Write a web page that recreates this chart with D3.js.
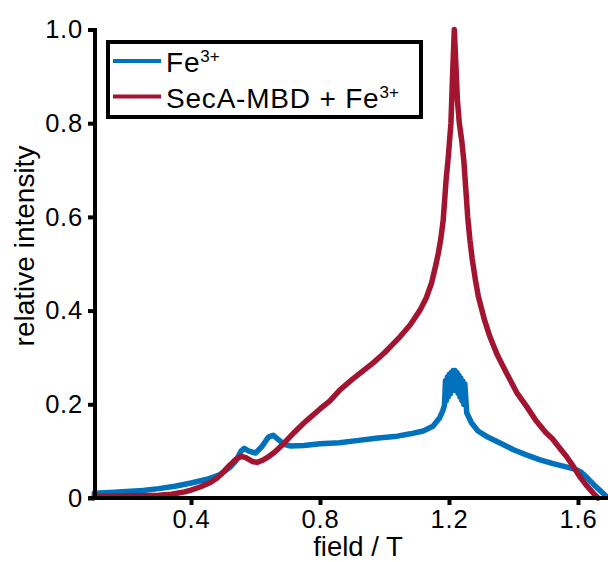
<!DOCTYPE html>
<html>
<head>
<meta charset="utf-8">
<script src="https://cdn.jsdelivr.net/npm/d3@7"></script>
<style>
  html, body { margin: 0; padding: 0; background: #fff; }
  svg { display: block; }
  text { font-family: "Liberation Sans", Arial, Helvetica, sans-serif; fill: #000; }
</style>
</head>
<body>
<svg id="chart" width="608" height="562"></svg>
<script>
// Field (T) for the Fe3+ only spectrum
const feField = [0.10,0.15,0.20,0.25,0.30,0.35,0.40,0.45,0.49,0.52,0.54,0.555,0.565,0.58,0.60,0.62,0.64,0.655,0.67,0.69,0.71,0.75,0.80,0.86,0.92,0.98,1.04,1.08,1.12,1.15,1.17,1.18,
  1.186,1.189,1.192,1.195,1.198,1.201,1.204,1.207,1.210,1.213,1.216,1.219,1.222,1.225,1.228,1.231,1.234,1.237,1.240,1.243,1.246,1.249,
  1.255,1.27,1.29,1.32,1.36,1.40,1.44,1.48,1.52,1.56,1.59,1.61,1.63,1.65,1.67,1.69];
// Relative intensity for the Fe3+ only spectrum
const feValue = [0.010,0.012,0.014,0.016,0.020,0.025,0.032,0.040,0.050,0.065,0.080,0.100,0.106,0.100,0.096,0.110,0.130,0.134,0.125,0.114,0.111,0.112,0.116,0.118,0.123,0.128,0.132,0.137,0.143,0.153,0.170,0.185,
  0.198,0.250,0.208,0.258,0.216,0.264,0.222,0.268,0.230,0.272,0.234,0.272,0.230,0.268,0.224,0.262,0.216,0.256,0.208,0.250,0.200,0.244,
  0.182,0.160,0.143,0.130,0.117,0.103,0.092,0.082,0.074,0.067,0.062,0.055,0.042,0.028,0.015,0.002];

// Field (T) for the SecA-MBD + Fe3+ spectrum
const secField = [0.10,0.15,0.20,0.25,0.30,0.34,0.38,0.40,0.43,0.46,0.48,0.50,0.52,0.54,0.555,0.57,0.59,0.605,0.62,0.64,0.66,0.69,0.72,0.75,0.77,0.80,0.83,0.862,0.90,0.964,1.00,1.048,1.08,1.11,1.13,1.146,1.160,1.167,1.175,1.182,1.191,1.198,1.206,1.211,1.2165,
  1.221,1.226,1.232,1.240,1.246,1.252,1.258,1.265,1.272,1.282,1.291,1.31,1.327,1.35,1.379,1.41,1.441,1.47,1.50,1.52,1.545,1.565,1.585,1.606,1.625,1.648,1.662];
// Relative intensity for the SecA-MBD + Fe3+ spectrum
const secValue = [0.004,0.004,0.005,0.005,0.006,0.008,0.013,0.017,0.024,0.033,0.042,0.055,0.070,0.083,0.089,0.086,0.078,0.076,0.080,0.088,0.098,0.118,0.140,0.160,0.172,0.190,0.207,0.231,0.253,0.288,0.310,0.344,0.370,0.401,0.428,0.459,0.500,0.523,0.555,0.593,0.679,0.730,0.800,0.900,1.000,
  0.930,0.850,0.800,0.760,0.720,0.660,0.600,0.550,0.510,0.465,0.430,0.380,0.344,0.305,0.266,0.225,0.195,0.165,0.140,0.127,0.105,0.088,0.068,0.045,0.028,0.010,0.000];

const seriesNames = ["Fe", "SecA-MBD + Fe"];
const seriesColors = ["#0072BD", "#A2142F"];
const xTicks = [0.4, 0.8, 1.2, 1.6];
const yTicks = [0, 0.2, 0.4, 0.6, 0.8, 1.0];
const xTickLabels = ["0.4", "0.8", "1.2", "1.6"];
const yTickLabels = ["0", "0.2", "0.4", "0.6", "0.8", "1.0"];
const xTitle = "field / T";
const yTitle = "relative intensity";

const svg = d3.select("#chart");
const x = d3.scaleLinear().domain([0.1, 1.7]).range([94.25, 610.25]);
const y = d3.scaleLinear().domain([0, 1]).range([498, 29.5]);

const toPoints = (fx, fy) => fx.map((f, i) => [f, fy[i]]);
const series = [toPoints(feField, feValue), toPoints(secField, secValue)];

const line = d3.line().x(d => x(d[0])).y(d => y(d[1]));

// spectra: Fe3+ first, complex drawn on top
svg.append("g").selectAll("path")
  .data(series)
  .join("path")
  .attr("d", line)
  .attr("fill", "none")
  .attr("stroke", (d, i) => seriesColors[i])
  .attr("stroke-width", 5.5)
  .attr("stroke-linejoin", "round")
  .attr("stroke-linecap", "round");

// axes
const xAxis = d3.axisBottom(x).tickValues(xTicks).tickFormat((d, i) => xTickLabels[i])
  .tickSizeInner(7).tickSizeOuter(0).tickPadding(5);
const yAxis = d3.axisLeft(y).tickValues(yTicks).tickFormat((d, i) => yTickLabels[i])
  .tickSizeInner(7).tickSizeOuter(0).tickPadding(5);

const gx = svg.append("g").attr("transform", `translate(0,${y(0)})`).call(xAxis);
const gy = svg.append("g").attr("transform", `translate(${x(0.1) + 0.75},0)`).call(yAxis);

[gx, gy].forEach(g => {
  g.select(".domain").attr("stroke", "#000").attr("stroke-width", 4);
  g.selectAll(".tick line").attr("stroke", "#000").attr("stroke-width", 4);
  g.selectAll(".tick text").attr("font-size", 25.5).attr("fill", "#000")
    .attr("letter-spacing", 0.8)
    .attr("font-family", "Liberation Sans, Arial, sans-serif");
});
// extend the x baseline left under the y axis
gx.select(".domain").attr("d", `M${x(0.1) - 6},0H${x(1.7)}`);
gy.select(".domain").attr("d", `M0,${y(0) + 2}V${y(1) - 1.5}`);

// axis titles
svg.append("text")
  .attr("x", 358).attr("y", 556)
  .attr("text-anchor", "middle")
  .attr("font-size", 27.5)
  .text(xTitle);

svg.append("text")
  .attr("transform", "translate(34,246) rotate(-90)")
  .attr("text-anchor", "middle")
  .attr("font-size", 28)
  .text(yTitle);

// legend
const legend = svg.append("g");
legend.append("rect")
  .attr("x", 108).attr("y", 42).attr("width", 313).attr("height", 75)
  .attr("fill", "#fff").attr("stroke", "#000").attr("stroke-width", 4);

const rowsY = [61, 96.5];
seriesNames.forEach((name, i) => {
  legend.append("line")
    .attr("x1", 113).attr("x2", 161)
    .attr("y1", rowsY[i]).attr("y2", rowsY[i])
    .attr("stroke", seriesColors[i]).attr("stroke-width", 4);
  const t = legend.append("text")
    .attr("x", 166).attr("y", rowsY[i] + 11)
    .attr("font-size", 28)
    .attr("letter-spacing", 0.8);
  t.append("tspan").text(name);
  t.append("tspan").attr("font-size", 17).attr("dy", -10).attr("letter-spacing", 0).text("3+");
});
</script>
</body>
</html>
